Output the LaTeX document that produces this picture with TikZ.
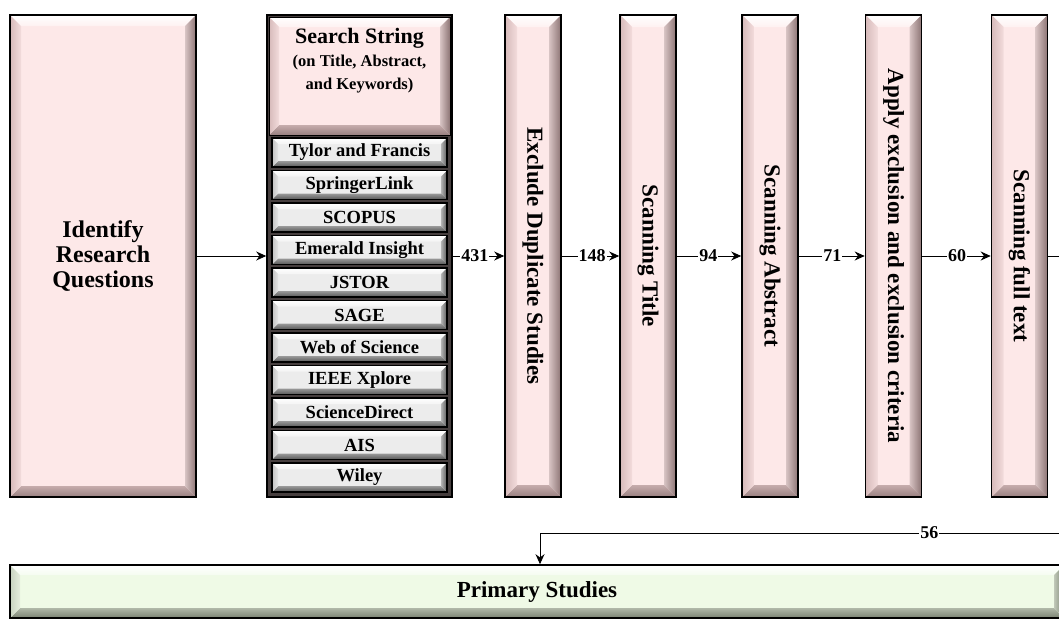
\documentclass[tikz,border=0pt]{standalone}
\usepackage{fontspec}
\setmainfont{Liberation Serif}
\usepackage{graphicx}
\usetikzlibrary{arrows.meta,calc}

\definecolor{pk}{HTML}{FDE8E8}
\definecolor{pkL}{HTML}{D6BABA}
\definecolor{pkLi}{HTML}{F3DCDC}
\definecolor{pkRi}{HTML}{D8C4C4}
\definecolor{pkR}{HTML}{8C7474}
\definecolor{pkBi}{HTML}{C6ACAC}
\definecolor{pkB}{HTML}{988080}
\definecolor{gy}{HTML}{ECECEC}
\definecolor{gyL}{HTML}{C2C2C2}
\definecolor{gyLi}{HTML}{E4E4E4}
\definecolor{gyRi}{HTML}{B4B4B4}
\definecolor{gyR}{HTML}{5A5A5A}
\definecolor{gyBi}{HTML}{9A9A9A}
\definecolor{gyB}{HTML}{565656}
\definecolor{gr}{HTML}{EFFAE6}
\definecolor{grL}{HTML}{C8D2C0}
\definecolor{grLi}{HTML}{E6EEDE}
\definecolor{grRi}{HTML}{C0C8B8}
\definecolor{grR}{HTML}{7A8272}
\definecolor{grBi}{HTML}{B0B8A8}
\definecolor{grB}{HTML}{7A8272}
\definecolor{colbg}{HTML}{463E3E}

% #1 bevel width, #2 face, #3 L out, #4 L in, #5 R in, #6 R out, #7 B in, #8 B out
\newcommand\bevpaint[8]{%
  \coordinate (@bl) at (path picture bounding box.south west);
  \coordinate (@tr) at (path picture bounding box.north east);
  \coordinate (@tl) at (@bl |- @tr);
  \coordinate (@br) at (@tr |- @bl);
  \coordinate (@itl) at ([shift={(#1pt,-#1pt)}]@tl);
  \coordinate (@itr) at ([shift={(-#1pt,-#1pt)}]@tr);
  \coordinate (@ibr) at ([shift={(-#1pt,#1pt)}]@br);
  \coordinate (@ibl) at ([shift={(#1pt,#1pt)}]@bl);
  \shade[top color=white, bottom color=#2!60!white] (@tl) -- (@tr) -- (@itr) -- (@itl) -- cycle;
  \shade[top color=#7, bottom color=#8] (@br) -- (@bl) -- (@ibl) -- (@ibr) -- cycle;
  \shade[left color=#3, right color=#4] (@bl) -- (@tl) -- (@itl) -- (@ibl) -- cycle;
  \shade[left color=#5, right color=#6] (@tr) -- (@br) -- (@ibr) -- (@itr) -- cycle;
}

\tikzset{
  pinkbox/.style={draw=black, line width=1.6pt, fill=pk, inner sep=0pt,
    path picture={\bevpaint{#1}{pk}{pkL}{pkLi}{pkRi}{pkR}{pkBi}{pkB}}},
  btn/.style={draw=black, line width=1.4pt, fill=gy, inner sep=0pt,
    minimum width=175pt, minimum height=29pt,
    font=\bfseries\fontsize{18.5}{20}\selectfont,
    path picture={\bevpaint{6}{gy}{gyL}{gyLi}{gyRi}{gyR}{gyBi}{gyB}}},
  greenbox/.style={draw=black, line width=1.6pt, fill=gr, inner sep=0pt,
    path picture={\bevpaint{10}{gr}{grL}{grLi}{grRi}{grR}{grBi}{grB}}},
  vbox/.style={pinkbox=12, minimum width=56pt, minimum height=482pt,
    font=\bfseries\fontsize{23}{26}\selectfont},
  colbox/.style={draw=black, line width=1.6pt, fill=colbg, inner sep=0pt,
    minimum width=185pt, minimum height=482pt},
  arr/.style={draw=black, line width=0.9pt, -{Stealth[length=10pt,width=9pt]}},
  ln/.style={draw=black, line width=0.9pt},
  lbl/.style={fill=white, inner sep=1pt, font=\bfseries\fontsize{18}{18}\selectfont},
}

\begin{document}
\begin{tikzpicture}[x=1pt,y=-1pt]
\useasboundingbox (0,0) rectangle (1059,621);
\clip (0,0) rectangle (1059,621);

% Identify research questions
\node[pinkbox=11, minimum width=186pt, minimum height=482pt,
      font=\bfseries\fontsize{24}{25}\selectfont, align=center]
  (idf) at (103,256) {Identify\\Research\\Questions};

% Search column
\node[colbox] (col) at (359.5,256) {};
\node[pinkbox=10, minimum width=181pt, minimum height=118pt, line width=1pt]
  (ss) at (359.5,76)
  {\raisebox{10pt}[0pt][0pt]{\fontsize{16.5}{23}\selectfont\bfseries
   \begin{tabular}{@{}c@{}}{\fontsize{22}{23}\selectfont Search String}\\
   (on Title, Abstract,\\ and Keywords)\end{tabular}}};
\foreach \t [count=\i] in {Tylor and Francis, SpringerLink, SCOPUS,
  Emerald Insight, JSTOR, SAGE, Web of Science, IEEE Xplore,
  ScienceDirect, AIS, Wiley}
  \node[btn] (b\i) at (359.5,{152.5+(\i-1)*32.5}) {\t};

% vertical steps
\node[vbox] (exc) at (533,256) {\rotatebox{-90}{Exclude Duplicate Studies}};
\node[vbox] (sct) at (648,256) {\rotatebox{-90}{Scanning Title}};
\node[vbox] (sca) at (770,256) {\rotatebox{-90}{Scanning Abstract}};
\node[vbox] (apl) at (893.5,256) {\rotatebox{-90}{Apply exclusion and exclusion criteria}};
\node[vbox] (sft) at (1019.5,256) {\rotatebox{-90}{Scanning full text}};

% primary studies
\node[greenbox, minimum width=1054pt, minimum height=53pt,
      font=\bfseries\fontsize{23}{24}\selectfont]
  (prim) at (537,591.5) {Primary Studies};

% connectors
\draw[arr] (idf.east) -- (col.west);
\draw[arr] (col.east) -- (exc.west) node[lbl, pos=0.43] {431};
\draw[arr] (exc.east) -- (sct.west) node[lbl, pos=0.53] {148};
\draw[arr] (sct.east) -- (sca.west) node[lbl, pos=0.49] {94};
\draw[arr] (sca.east) -- (apl.west) node[lbl, pos=0.51] {71};
\draw[arr] (apl.east) -- (sft.west) node[lbl, pos=0.51] {60};
\coordinate (r1) at (1066,256);
\draw[ln] (sft.east) -- (r1);
\coordinate (r2) at (1066,533);
\coordinate (dn) at (540,533);
\draw[ln] (r2) -- (dn) node[lbl, pos=0.26] {56};
\draw[arr] (dn) -- (dn |- prim.north);
\end{tikzpicture}
\end{document}
